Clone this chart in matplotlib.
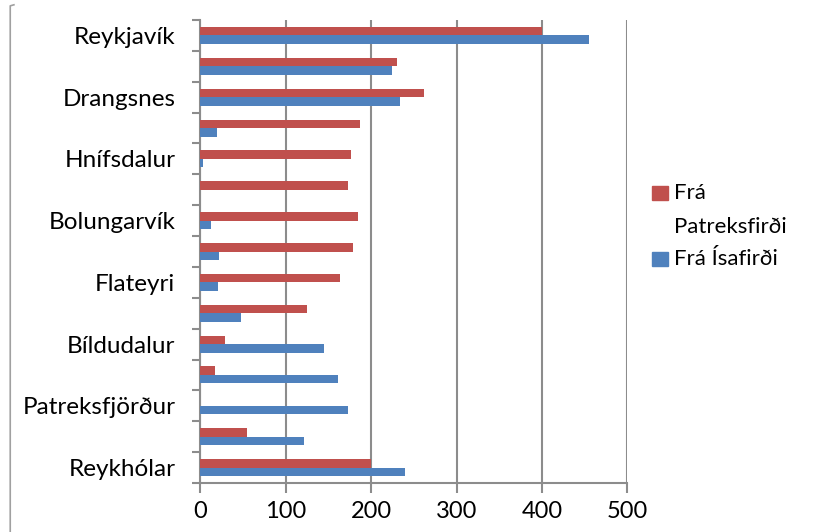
import numpy as np
import matplotlib
matplotlib.use("Agg")
import matplotlib.pyplot as plt
from matplotlib.lines import Line2D
from matplotlib.patches import Rectangle

# bottom to top; every other name is not shown in the chart
places = ["Reykhólar", "Brjánslækur", "Patreksfjörður", "Tálknafjörður",
          "Bíldudalur", "Þingeyri", "Flateyri", "Suðureyri", "Bolungarvík",
          "Ísafjörður", "Hnífsdalur", "Súðavík", "Drangsnes", "Hólmavík",
          "Reykjavík"]
fra_patreksfirdi = [200, 55, 0, 17, 29, 125, 164, 179, 185, 173, 176, 187, 262, 230, 400]
fra_isafirdi = [240, 121, 173, 161, 145, 48, 21, 22, 12, 0, 3, 19, 234, 224, 455]
shown = [True, False] * 7 + [True]
series_names = ["Frá\nPatreksfirði", "Frá Ísafirði"]

RED = "#C0504D"
BLUE = "#4F81BD"
GRID = "#8C8C8C"

plt.rcParams["font.family"] = ["Lato", "DejaVu Sans"]

fig = plt.figure(figsize=(8.19, 5.32), dpi=100)
ax = fig.add_axes([0.2446, 0.0921, 0.5214, 0.8703])

y = np.arange(len(places))
h = 0.275
ax.barh(y + h / 2, fra_patreksfirdi, height=h, color=RED, linewidth=0, zorder=3)
ax.barh(y - h / 2, fra_isafirdi, height=h, color=BLUE, linewidth=0, zorder=3)

ax.set_xlim(0, 500)
ax.set_ylim(-0.5, len(places) - 0.5)
ax.set_xticks(range(0, 501, 100))
ax.xaxis.grid(True, color=GRID, linewidth=1.5, zorder=0)

ax.set_yticks(y)
ax.set_yticklabels([p if s else "" for p, s in zip(places, shown)])
ax.set_yticks(np.arange(-0.5, len(places), 1), minor=True)
ax.tick_params(axis="y", which="major", length=0, pad=18, labelsize=17.5)
ax.tick_params(axis="y", which="minor", length=6, width=1.5, color=GRID)
ax.tick_params(axis="x", length=7, width=1.5, color=GRID, labelsize=17, pad=6)

for side in ["top", "right"]:
    ax.spines[side].set_visible(False)
for side in ["left", "bottom"]:
    ax.spines[side].set_color(GRID)
    ax.spines[side].set_linewidth(1.5)

# legend, swatch aligned with the first line of each entry (pixel coords / figure size)
W, H = 819, 532
for (name, col, top) in [(series_names[0], RED, 186), (series_names[1], BLUE, 252)]:
    fig.add_artist(Rectangle((652 / W, 1 - (top + 14) / H), 16 / W, 14 / H,
                             transform=fig.transFigure, color=col))
    fig.text(674 / W, 1 - (top - 3) / H, name, fontsize=16, va="top",
             ha="left", linespacing=1.9)

# chart area border (only its left edge is visible)
fig.add_artist(Line2D([0.0125, 0.0125, 0.017], [0.0, 0.989, 0.991],
                      color="#A0A0A0", linewidth=1.2))

fig.savefig("out.png", dpi=100)
